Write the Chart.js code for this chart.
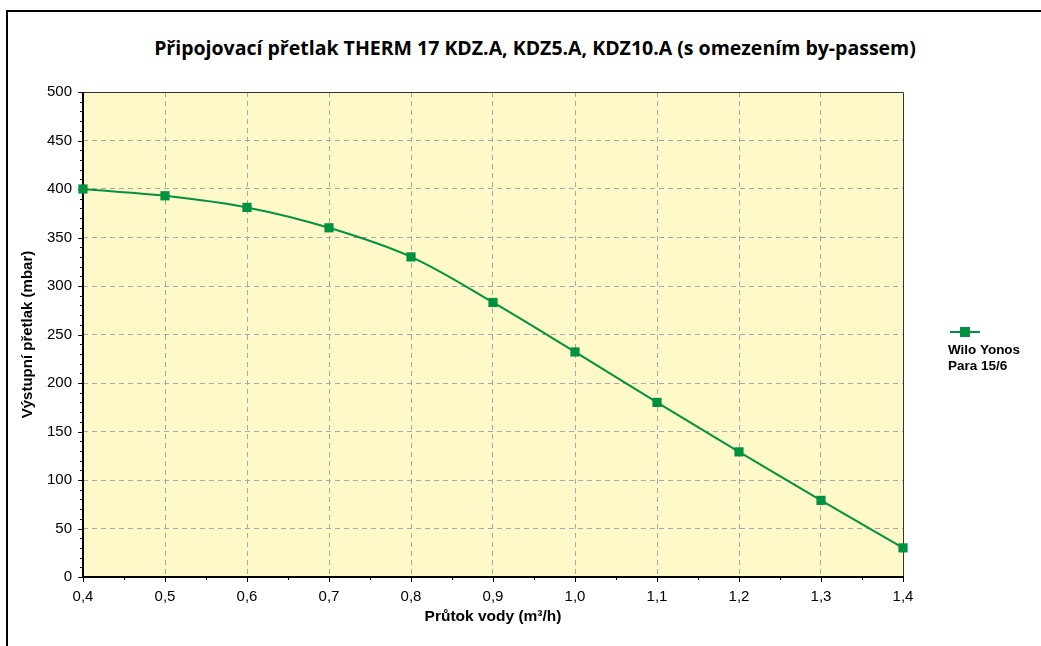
<!DOCTYPE html>
<html>
<head>
<meta charset="utf-8">
<script src="https://cdn.jsdelivr.net/npm/chart.js@4.4.1/dist/chart.umd.min.js"></script>
<style>
  body{margin:0;background:#fff;}
  #wrap{position:relative;width:1041px;height:646px;overflow:hidden;background:#fff;}
  #frame{position:absolute;left:6px;top:10px;width:1100px;height:700px;border-left:2px solid #000;border-top:2px solid #000;}
  #title{position:absolute;left:0;top:34px;width:1070px;text-align:center;font:bold 19.5px "Open Sans";color:#000;letter-spacing:0;}
  #chart{position:absolute;left:0;top:0;}
  #legend{position:absolute;left:948px;top:325px;font:bold 13.5px "Liberation Sans";color:#000;line-height:16px;}
  #legend .mark{position:relative;width:30px;height:14px;margin-left:2px;margin-bottom:3px;}
  #legend .mark i{position:absolute;left:0;top:6px;width:30px;height:2px;background:#00923f;}
  #legend .mark b{position:absolute;left:10px;top:2px;width:10px;height:10px;background:#00923f;}
</style>
</head>
<body>
<div id="wrap">
  <div id="frame"></div>
  <div id="title">Připojovací přetlak THERM 17 KDZ.A, KDZ5.A, KDZ10.A (s omezením by-passem)</div>
  <canvas id="chart" width="1041" height="646"></canvas>
  <div id="legend"><div class="mark"><i></i><b></b></div><div id="legendText"></div></div>
</div>
<script>
// průtok vody (m3/h) a výstupní přetlak (mbar)
const flow = [0.4, 0.5, 0.6, 0.7, 0.8, 0.9, 1.0, 1.1, 1.2, 1.3, 1.4];
const pressure = [400, 393, 381, 360, 330, 283, 232, 180, 129, 79, 30];
const seriesName = ['Wilo Yonos', 'Para 15/6'];
const xTitle = 'Průtok vody (m³/h)';
const yTitle = 'Výstupní přetlak (mbar)';

const green = '#00923f';

document.getElementById('legendText').innerHTML = seriesName.join('<br>');

// pozadí, rámeček a vedlejší značky os
const plotDeco = {
  id: 'plotDeco',
  beforeDraw(chart){
    const {ctx, chartArea:a} = chart;
    ctx.save();
    ctx.fillStyle = '#fff8c8';
    ctx.fillRect(a.left, a.top, a.right - a.left, a.bottom - a.top);
    ctx.restore();
  },
  beforeDatasetsDraw(chart){
    const {ctx, chartArea:a, scales} = chart;
    ctx.save();
    ctx.strokeStyle = '#333';
    ctx.lineWidth = 1;
    ctx.beginPath();
    ctx.moveTo(a.left, a.top + 0.5); ctx.lineTo(a.right + 0.5, a.top + 0.5);
    ctx.lineTo(a.right + 0.5, a.bottom);
    ctx.stroke();
    ctx.strokeStyle = '#000';
    ctx.lineWidth = 2;
    ctx.beginPath();
    ctx.moveTo(a.left, a.top); ctx.lineTo(a.left, a.bottom); ctx.lineTo(a.right + 1, a.bottom);
    ctx.stroke();
    ctx.lineWidth = 1;
    ctx.beginPath();
    // y značky po 10
    for (let v = 0; v <= 500; v += 10){
      const y = Math.round(scales.y.getPixelForValue(v)) + 0.5;
      const len = v % 50 === 0 ? 5 : 3;
      ctx.moveTo(a.left - len, y); ctx.lineTo(a.left, y);
    }
    // x značky po 0,05
    for (let i = 0; i <= 20; i++){
      const x = Math.round(scales.x.getPixelForValue(0.4 + i * 0.05)) + 0.5;
      const len = i % 2 === 0 ? 5 : 3;
      ctx.moveTo(x, a.bottom); ctx.lineTo(x, a.bottom + len);
    }
    ctx.stroke();
    ctx.restore();
  }
};

new Chart(document.getElementById('chart'), {
  type: 'line',
  data: {
    datasets: [{
      label: seriesName.join(' '),
      data: flow.map((x, i) => ({x, y: pressure[i]})),
      borderColor: green,
      backgroundColor: green,
      borderWidth: 2,
      tension: 0.35,
      pointStyle: 'rect',
      pointRadius: 6.5,
      pointBorderWidth: 0,
      clip: false
    }]
  },
  options: {
    responsive: false,
    animation: false,
    devicePixelRatio: 1,
    layout: {padding: {left: 18, right: 138, top: 92, bottom: 20}},
    plugins: {legend: {display: false}, title: {display: false}, tooltip: {enabled: false}},
    scales: {
      x: {
        type: 'linear', min: 0.4, max: 1.4,
        ticks: {
          stepSize: 0.1, padding: 11, color: '#000',
          font: {family: 'Liberation Sans', size: 15},
          callback: v => v.toFixed(1).replace('.', ',')
        },
        grid: {
          drawTicks: false, lineWidth: 1,
          color: c => (c.tick && (Math.abs(c.tick.value - 0.4) < 1e-6 || Math.abs(c.tick.value - 1.4) < 1e-6)) ? 'rgba(0,0,0,0)' : '#a8a8a8'
        },
        border: {display: false, dash: [5, 4]},
        title: {display: true, text: xTitle, color: '#000', padding: 0, font: {family: 'Liberation Sans', size: 15.5, weight: 'bold'}},
        afterFit: s => { s.height = 49; }
      },
      y: {
        min: 0, max: 500,
        ticks: {stepSize: 50, padding: 11, color: '#000', font: {family: 'Liberation Sans', size: 15}},
        grid: {
          drawTicks: false, lineWidth: 1,
          color: c => (c.tick && (c.tick.value === 0 || c.tick.value === 500)) ? 'rgba(0,0,0,0)' : '#a8a8a8'
        },
        border: {display: false, dash: [5, 4]},
        title: {display: true, text: yTitle, color: '#000', padding: {top: 1, bottom: 0}, font: {family: 'Liberation Sans', size: 15, weight: 'bold'}},
        afterFit: s => { s.width = 65; }
      }
    }
  },
  plugins: [plotDeco]
});
</script>
</body>
</html>
